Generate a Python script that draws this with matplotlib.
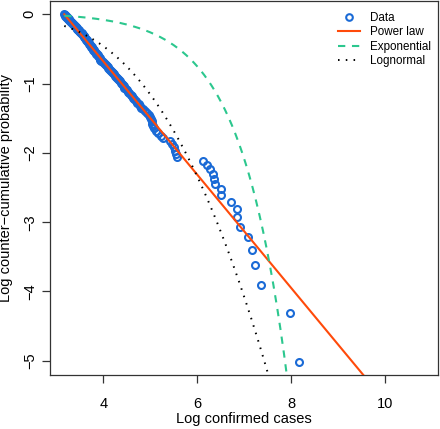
import math
import numpy as np
import matplotlib
matplotlib.use("Agg")
import matplotlib.pyplot as plt

plt.rcParams['font.family'] = ['Liberation Sans', 'DejaVu Sans']

# Log confirmed cases (sorted ascending)
log_cases = [
    3.17, 3.175, 3.18, 3.19, 3.20, 3.21, 3.22, 3.23, 3.24, 3.25, 3.26, 3.27,
    3.28, 3.29, 3.30, 3.31, 3.32, 3.33, 3.34, 3.35, 3.36, 3.37, 3.38, 3.39,
    3.40, 3.41, 3.42, 3.43, 3.44, 3.45, 3.46, 3.48, 3.49, 3.50, 3.51, 3.52,
    3.54, 3.55, 3.56, 3.57, 3.58, 3.59, 3.60, 3.61, 3.62, 3.63, 3.64, 3.65,
    3.66, 3.67, 3.68, 3.69, 3.70, 3.71, 3.72, 3.73, 3.74, 3.75, 3.77, 3.78,
    3.79, 3.80, 3.81, 3.83, 3.84, 3.85, 3.86, 3.88, 3.89, 3.90, 3.92, 3.93,
    3.94, 3.96, 3.98, 3.99, 4.01, 4.03, 4.05, 4.07, 4.09, 4.11, 4.13, 4.15,
    4.17, 4.19,
    4.21, 4.23, 4.25, 4.27, 4.29, 4.31, 4.33, 4.35, 4.37, 4.39, 4.41,
    4.43, 4.45, 4.48, 4.50, 4.53, 4.55, 4.58, 4.61, 4.63, 4.66, 4.69, 4.72, 4.75,
    4.78, 4.81, 4.85, 4.89, 4.93, 4.97,
    5.00, 5.02, 5.03, 5.04, 5.06, 5.08, 5.12, 5.17, 5.22, 5.26, 5.42, 5.46,
    5.50, 5.53, 5.55, 5.57,
    6.128, 6.213, 6.27, 6.34, 6.355, 6.37, 6.498, 6.511, 6.723, 6.838, 6.845,
    6.915, 7.07, 7.164, 7.234, 7.355, 7.966, 8.157,
]

# Fitted model parameters (estimated from the figure)
xmin_log = 3.17
powerlaw_slope = 0.818       # alpha - 1
exp_rate = 0.00193
exp_offset = -0.02
lnorm_mu = 4.41
lnorm_sigma = 1.22

x = np.array(log_cases)
N = len(x)
ccdf = np.log((N - np.arange(N)) / N)

fig = plt.figure(figsize=(4.40, 4.29), dpi=100)
ax = fig.add_axes([50 / 440, 1 - 375 / 429, 388.3 / 440, 374 / 429])

ax.plot(x, ccdf, linestyle='none', marker='o', markersize=5.0,
        markerfacecolor='none', markeredgecolor='#1a6ad6', markeredgewidth=1.5,
        label='Data', zorder=2)

xs = np.linspace(xmin_log, 12, 600)
y_pl = -powerlaw_slope * (xs - xmin_log)
ax.plot(xs, y_pl, color='#ff4a0a', lw=1.5, label='Power law', zorder=3)

y_exp = exp_offset - exp_rate * (np.exp(xs) - np.exp(xmin_log))
ax.plot(xs, y_exp, color='#2cc78e', lw=1.5, dashes=(3.5, 3.2),
        label='Exponential', zorder=3)

erfc = np.vectorize(math.erfc)
z = (xs - lnorm_mu) / lnorm_sigma
y_ln = np.log(0.5 * erfc(z / math.sqrt(2)))
ax.plot(xs, y_ln, color='black', lw=1.4, dashes=(0.8, 3.2),
        label='Lognormal', zorder=3)

ax.set_xlim(2.866, 11.128)
ax.set_ylim(-5.205, 0.192)

ax.set_xticks([4, 6, 8, 10])
ax.set_yticks([0, -1, -2, -3, -4, -5])
ax.tick_params(direction='out', length=5.5, width=0.9, labelsize=10.5,
               color='#333333')
ax.tick_params(axis='x', pad=10)
ax.tick_params(axis='y', pad=4)
for lab in ax.get_yticklabels():
    lab.set_rotation(90)
    lab.set_va('center')
for s in ax.spines.values():
    s.set_linewidth(0.9)
    s.set_color('#333333')

ax.set_xlabel('Log confirmed cases', fontsize=10.5)
ax.xaxis.set_label_coords(0.5, -0.098)
ax.set_ylabel('Log counter\u2212cumulative probability', fontsize=10.5)
ax.yaxis.set_label_coords(-0.094, 0.5)

leg = ax.legend(loc='upper right', bbox_to_anchor=(1.0, 0.99), frameon=False,
                fontsize=8.4, handlelength=1.9, handletextpad=0.85,
                labelspacing=0.22, borderpad=0.2, borderaxespad=0.4,
                markerscale=0.95)

fig.savefig('out.png', dpi=100)
